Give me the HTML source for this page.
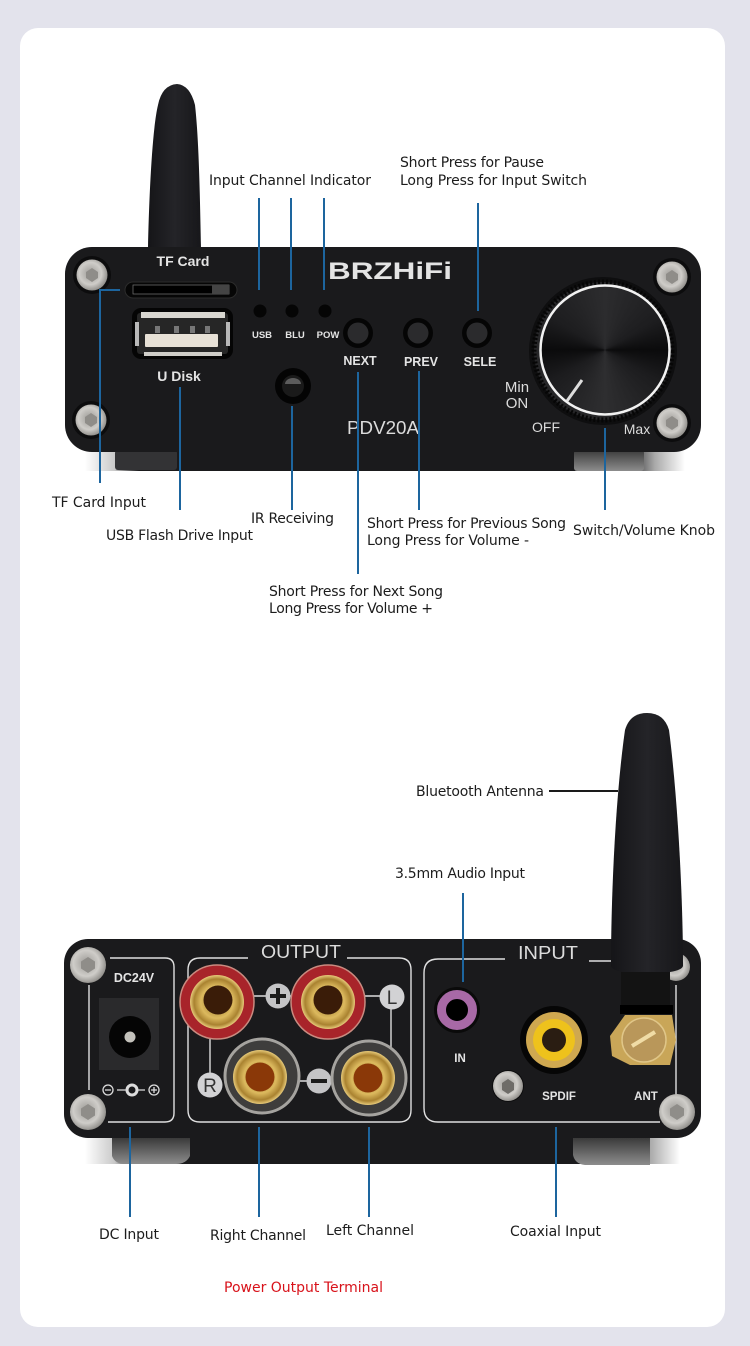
<!DOCTYPE html>
<html><head><meta charset="utf-8"><style>
html,body{margin:0;padding:0;background:#e3e3ec}
svg{display:block}
.l{font-family:"DejaVu Sans","Liberation Sans",sans-serif;font-size:14px;fill:#1c1c1c}
.p{font-family:"Liberation Sans",sans-serif;font-weight:700;fill:#e4e4e4;text-anchor:middle}
.n{font-family:"Liberation Sans",sans-serif;fill:#dcdcdc;text-anchor:middle}
.b{stroke:#1d659e;stroke-width:2;fill:none}
.w{stroke:#e0e0e0;stroke-width:1.4;fill:none}
</style></head><body>
<svg width="750" height="1346" viewBox="0 0 750 1346" xmlns="http://www.w3.org/2000/svg">
<defs>
<radialGradient id="sc" cx=".45" cy=".45" r=".6"><stop offset="0" stop-color="#9c9a96"/><stop offset=".6" stop-color="#cfcdc9"/><stop offset="1" stop-color="#85837f"/></radialGradient>
<radialGradient id="gold" cx=".5" cy=".5" r=".5"><stop offset="0" stop-color="#8a6a20"/><stop offset=".6" stop-color="#dcb95e"/><stop offset=".85" stop-color="#a98230"/><stop offset="1" stop-color="#e8cb7a"/></radialGradient>
<linearGradient id="ant" x1="0" x2="1" y1="0" y2="0"><stop offset="0" stop-color="#151518"/><stop offset=".5" stop-color="#242428"/><stop offset="1" stop-color="#17171a"/></linearGradient>
<linearGradient id="foot" x1="0" x2="0" y1="0" y2="1"><stop offset="0" stop-color="#3a3a3a"/><stop offset="1" stop-color="#8d8d8d"/></linearGradient>
<linearGradient id="shade" x1="0" x2="1" y1="0" y2="0"><stop offset="0" stop-color="#fff"/><stop offset=".05" stop-color="#c8c8c8"/><stop offset=".09" stop-color="#1a1a1c"/><stop offset=".9" stop-color="#1a1a1c"/><stop offset=".95" stop-color="#aaa"/><stop offset="1" stop-color="#fff"/></linearGradient>
<g id="s"><circle r="19" fill="#0c0c0d"/><circle r="15.5" fill="url(#sc)"/><polygon points="-6,-3 0,-7 6,-3 6,3 0,7 -6,3" fill="#8f8d89"/></g>
<g id="s2"><circle r="18" fill="url(#sc)"/><polygon points="-7,-3.5 0,-8 7,-3.5 7,3.5 0,8 -7,3.5" fill="#8f8d89"/></g>
</defs>
<rect width="750" height="1346" fill="#e3e3ec"/>
<rect x="20" y="28" width="705" height="1299" rx="18" fill="#fff"/>

<!-- FRONT -->
<path d="M148 248C149 200 152 130 158 105Q162 85 177 84Q190 85 195 105C199 140 200 200 201 248Z" fill="url(#ant)"/>
<rect x="85" y="440" width="600" height="31" fill="url(#shade)"/>
<rect x="115" y="450" width="62" height="20" rx="3" fill="#333335"/>
<rect x="574" y="450" width="70" height="21" rx="3" fill="url(#foot)"/>
<rect x="65" y="247" width="636" height="205" rx="27" fill="#1a1a1c"/>
<use href="#s" x="92" y="275"/><use href="#s" x="91" y="420"/><use href="#s" x="672" y="277"/><use href="#s" x="672" y="423"/>

<text class="p" x="183" y="266" font-size="14">TF Card</text>
<rect x="125" y="282" width="112" height="16" rx="8" fill="#060606" stroke="#2c2c2c"/>
<rect x="133" y="285" width="96" height="9" fill="#000" stroke="#777" stroke-width=".7"/>
<rect x="212" y="285" width="17" height="9" fill="#444"/>
<rect x="132" y="308" width="101" height="51" rx="9" fill="#050505"/>
<rect x="137" y="313" width="91" height="41" rx="3" fill="#262626"/>
<rect x="141" y="312" width="84" height="6" fill="#d8d6d0"/>
<rect x="144" y="352" width="78" height="4" fill="#cfcdc8"/>
<rect x="135" y="322" width="4" height="24" fill="#b8b8b8"/><rect x="226" y="322" width="4" height="24" fill="#b8b8b8"/>
<rect x="145" y="334" width="73" height="13" rx="1" fill="#e7e1d6"/>
<rect x="155" y="326" width="5" height="7" fill="#777"/><rect x="174" y="326" width="5" height="7" fill="#777"/><rect x="190" y="326" width="5" height="7" fill="#777"/><rect x="205" y="326" width="5" height="7" fill="#777"/>
<text class="p" x="179" y="381" font-size="14">U Disk</text>

<circle cx="260" cy="311" r="6.5" fill="#050505"/><circle cx="292" cy="311" r="6.5" fill="#050505"/><circle cx="325" cy="311" r="6.5" fill="#050505"/>
<text class="p" x="262" y="338" font-size="9.5">USB</text><text class="p" x="295" y="338" font-size="9.5">BLU</text><text class="p" x="328" y="338" font-size="9.5">POW</text>

<circle cx="358" cy="333" r="15" fill="#050505"/><circle cx="358" cy="333" r="10.5" fill="#2b2b2d"/>
<circle cx="418" cy="333" r="15" fill="#050505"/><circle cx="418" cy="333" r="10.5" fill="#2b2b2d"/>
<circle cx="477" cy="333" r="15" fill="#050505"/><circle cx="477" cy="333" r="10.5" fill="#2b2b2d"/>
<text class="p" x="360" y="365" font-size="12.5">NEXT</text><text class="p" x="421" y="366" font-size="12.5">PREV</text><text class="p" x="480" y="366" font-size="12.5">SELE</text>
<circle cx="293" cy="386" r="18" fill="#040404"/><circle cx="293" cy="386" r="11" fill="#1a1a1a"/><path d="M285 384a8 6 0 0 1 16 0z" fill="#5c5c5c"/>
<text x="328" y="279" font-family="Liberation Sans,sans-serif" font-weight="700" font-size="24" fill="#e4e4e4" textLength="124" lengthAdjust="spacingAndGlyphs">BRZHiFi</text>
<text class="n" x="383" y="434" font-size="18" textLength="72" lengthAdjust="spacingAndGlyphs">PDV20A</text>
<text class="n" x="517" y="392" font-size="15">Min</text><text class="n" x="517" y="408" font-size="15">ON</text>
<text class="n" x="546" y="432" font-size="14">OFF</text><text class="n" x="637" y="434" font-size="14">Max</text>

<circle cx="603" cy="351" r="74" fill="#0e0e0f"/>
<circle cx="603" cy="351" r="69" fill="#262628" stroke="#060606" stroke-width="5" stroke-dasharray="2 2"/>
<foreignObject x="540" y="285" width="130" height="130"><div xmlns="http://www.w3.org/1999/xhtml" style="width:130px;height:130px;border-radius:50%;background:conic-gradient(#2c2c2e,#1d1d1f 60deg,#0b0b0c 90deg,#1c1c1e 120deg,#2e2e30 180deg,#1c1c1e 240deg,#0b0b0c 270deg,#1d1d1f 300deg,#2c2c2e)"></div></foreignObject>
<circle cx="605" cy="350" r="64.5" fill="none" stroke="#f2f2f2" stroke-width="2.5"/>
<line x1="567" y1="401" x2="582" y2="380" stroke="#ddd" stroke-width="3"/>

<!-- blue front -->
<path class="b" d="M259 198V290M291 198V290M324 198V290M478 203V311M100 483V290H120M180 387V510M292 406V510M358 372V574M419 371V510M605 428V510"/>

<g class="l">
<text x="400" y="167" textLength="144">Short Press for Pause</text>
<text x="400" y="185" textLength="187">Long Press for Input Switch</text>
<text x="209" y="185" textLength="162">Input Channel Indicator</text>
<text x="52" y="507" textLength="94">TF Card Input</text>
<text x="106" y="540" textLength="147">USB Flash Drive Input</text>
<text x="251" y="523" textLength="83">IR Receiving</text>
<text x="367" y="528" textLength="199">Short Press for Previous Song</text>
<text x="367" y="545" textLength="162">Long Press for Volume -</text>
<text x="573" y="535" textLength="142">Switch/Volume Knob</text>
<text x="269" y="596" textLength="174">Short Press for Next Song</text>
<text x="269" y="613" textLength="164">Long Press for Volume +</text>
<text x="416" y="796" textLength="128">Bluetooth Antenna</text>
<text x="395" y="878" textLength="130">3.5mm Audio Input</text>
<text x="99" y="1239" textLength="60">DC Input</text>
<text x="210" y="1240" textLength="96">Right Channel</text>
<text x="326" y="1235" textLength="88">Left Channel</text>
<text x="510" y="1236" textLength="91">Coaxial Input</text>
<text x="224" y="1292" textLength="159" style="fill:#d8121a">Power Output Terminal</text>
</g>

<!-- BACK -->
<rect x="85" y="1125" width="595" height="39" fill="url(#shade)"/>
<path d="M112 1138H190V1156Q186 1164 176 1164H125Q115 1164 112 1156Z" fill="url(#foot)"/>
<path d="M573 1138H650V1165H585Q575 1164 573 1155Z" fill="url(#foot)"/>
<rect x="64" y="939" width="637" height="199" rx="24" fill="#1a1a1c"/>

<path class="w" d="M110 958H165Q174 958 174 967V1113Q174 1122 165 1122H108M89 985V1090"/>
<path class="w" d="M248 958H200Q188 958 188 970V1110Q188 1122 200 1122H399Q411 1122 411 1110V970Q411 958 399 958H347"/>
<path class="w" d="M505 959H438Q424 959 424 973V1108Q424 1122 438 1122H660M589 961H612M676 985V1095"/>

<text class="n" x="301" y="958" font-size="18.5" textLength="80" lengthAdjust="spacingAndGlyphs">OUTPUT</text>
<text class="n" x="548" y="959" font-size="18.5" textLength="60" lengthAdjust="spacingAndGlyphs">INPUT</text>
<text class="p" x="134" y="982" font-size="12.5">DC24V</text>
<rect x="99" y="998" width="60" height="72" fill="#2a2a2c"/>
<circle cx="130" cy="1037" r="21" fill="#050505"/><circle cx="130" cy="1037" r="5.5" fill="#c4c2bc"/>
<g stroke="#ddd" fill="none" stroke-width="1.3"><circle cx="108" cy="1090" r="5"/><circle cx="154" cy="1090" r="5"/><path d="M105 1090h6M151 1090h6M154 1087v6M117 1090h28"/><circle cx="132" cy="1090" r="5" stroke-width="3" fill="#1a1a1c"/></g>

<!-- connecting -->
<g stroke="#ddd" stroke-width="1.4" fill="none"><path d="M250 996H392M210 1035V1075M391 1005V1050M230 1081H360"/></g>
<circle cx="278" cy="996" r="12.5" fill="#c4c4c6"/><path d="M270 996h16M278 988v16" stroke="#1c1c1c" stroke-width="4"/>
<circle cx="392" cy="997" r="12.5" fill="#d2d2d4"/><text x="392" y="1004" text-anchor="middle" font-family="Liberation Sans,sans-serif" font-size="19" fill="#333">L</text>
<circle cx="210" cy="1085" r="12.5" fill="#d2d2d4"/><text x="210" y="1092" text-anchor="middle" font-family="Liberation Sans,sans-serif" font-size="19" fill="#333">R</text>
<circle cx="319" cy="1081" r="12.5" fill="#c4c4c6"/><path d="M311 1081h16" stroke="#1c1c1c" stroke-width="4"/>

<circle cx="217" cy="1002" r="37" fill="#a8242a" stroke="#c98b80" stroke-width="1.5"/><circle cx="217" cy="1002" r="27" fill="url(#gold)"/><circle cx="218" cy="1000" r="14.5" fill="#3a1c08"/>
<circle cx="328" cy="1002" r="37" fill="#a8242a" stroke="#c98b80" stroke-width="1.5"/><circle cx="328" cy="1002" r="27" fill="url(#gold)"/><circle cx="328" cy="1000" r="14.5" fill="#3a1c08"/>
<circle cx="262" cy="1076" r="37" fill="#3e3d3c" stroke="#a5a39f" stroke-width="3"/><circle cx="260" cy="1077" r="27" fill="url(#gold)"/><circle cx="260" cy="1077" r="14.5" fill="#8a3808"/>
<circle cx="369" cy="1078" r="37" fill="#3e3d3c" stroke="#a5a39f" stroke-width="3"/><circle cx="368" cy="1078" r="27" fill="url(#gold)"/><circle cx="368" cy="1078" r="14.5" fill="#8a3808"/>

<use href="#s2" x="88" y="965"/><use href="#s2" x="88" y="1112"/><use href="#s2" x="677" y="1112"/>
<circle cx="676" cy="967" r="14" fill="url(#sc)"/>

<circle cx="457" cy="1010" r="23" fill="#0a0a0a"/>
<circle cx="457" cy="1010" r="15.5" fill="#000" stroke="#a869a6" stroke-width="9"/>
<text class="p" x="460" y="1062" font-size="11.5">IN</text>
<circle cx="554" cy="1040" r="34" fill="#060606"/><circle cx="554" cy="1040" r="28" fill="#cfa850"/><circle cx="554" cy="1040" r="21" fill="#eec21c"/><circle cx="554" cy="1040" r="12" fill="#2a1d12"/>
<circle cx="508" cy="1086" r="16" fill="#0c0c0d"/><circle cx="508" cy="1086" r="15" fill="url(#sc)"/><polygon points="508,1079 514,1083 514,1090 508,1094 502,1090 502,1083" fill="#6e6c68"/>
<text class="p" x="559" y="1100" font-size="11.5">SPDIF</text>
<text class="p" x="646" y="1100" font-size="11.5">ANT</text>

<!-- antenna -->
<path d="M621 1012V966H670V1012Z" fill="#131313"/>
<rect x="620" y="1005" width="53" height="9" fill="#000"/>
<path d="M625 1015H672L676 1040L670 1065H630L612 1056L610 1036Z" fill="#c9a658"/>
<circle cx="644" cy="1040" r="22" fill="#b9975a" stroke="#e0c688" stroke-width="1.5"/>
<path d="M632 1046L655 1032" stroke="#f0dca6" stroke-width="4"/>
<path d="M611 966C611 900 615 800 625 730Q630 713 647 713Q664 713 669 730C678 800 683 900 683 966Q682 970 670 972H622Q612 970 611 966Z" fill="url(#ant)"/>

<!-- back connectors -->
<path class="b" d="M463 893V982M130 1127V1217M259 1127V1217M369 1127V1217M556 1127V1217"/>
<line x1="549" y1="791" x2="618" y2="791" stroke="#1a1a1a" stroke-width="2"/>
</svg>
</body></html>
